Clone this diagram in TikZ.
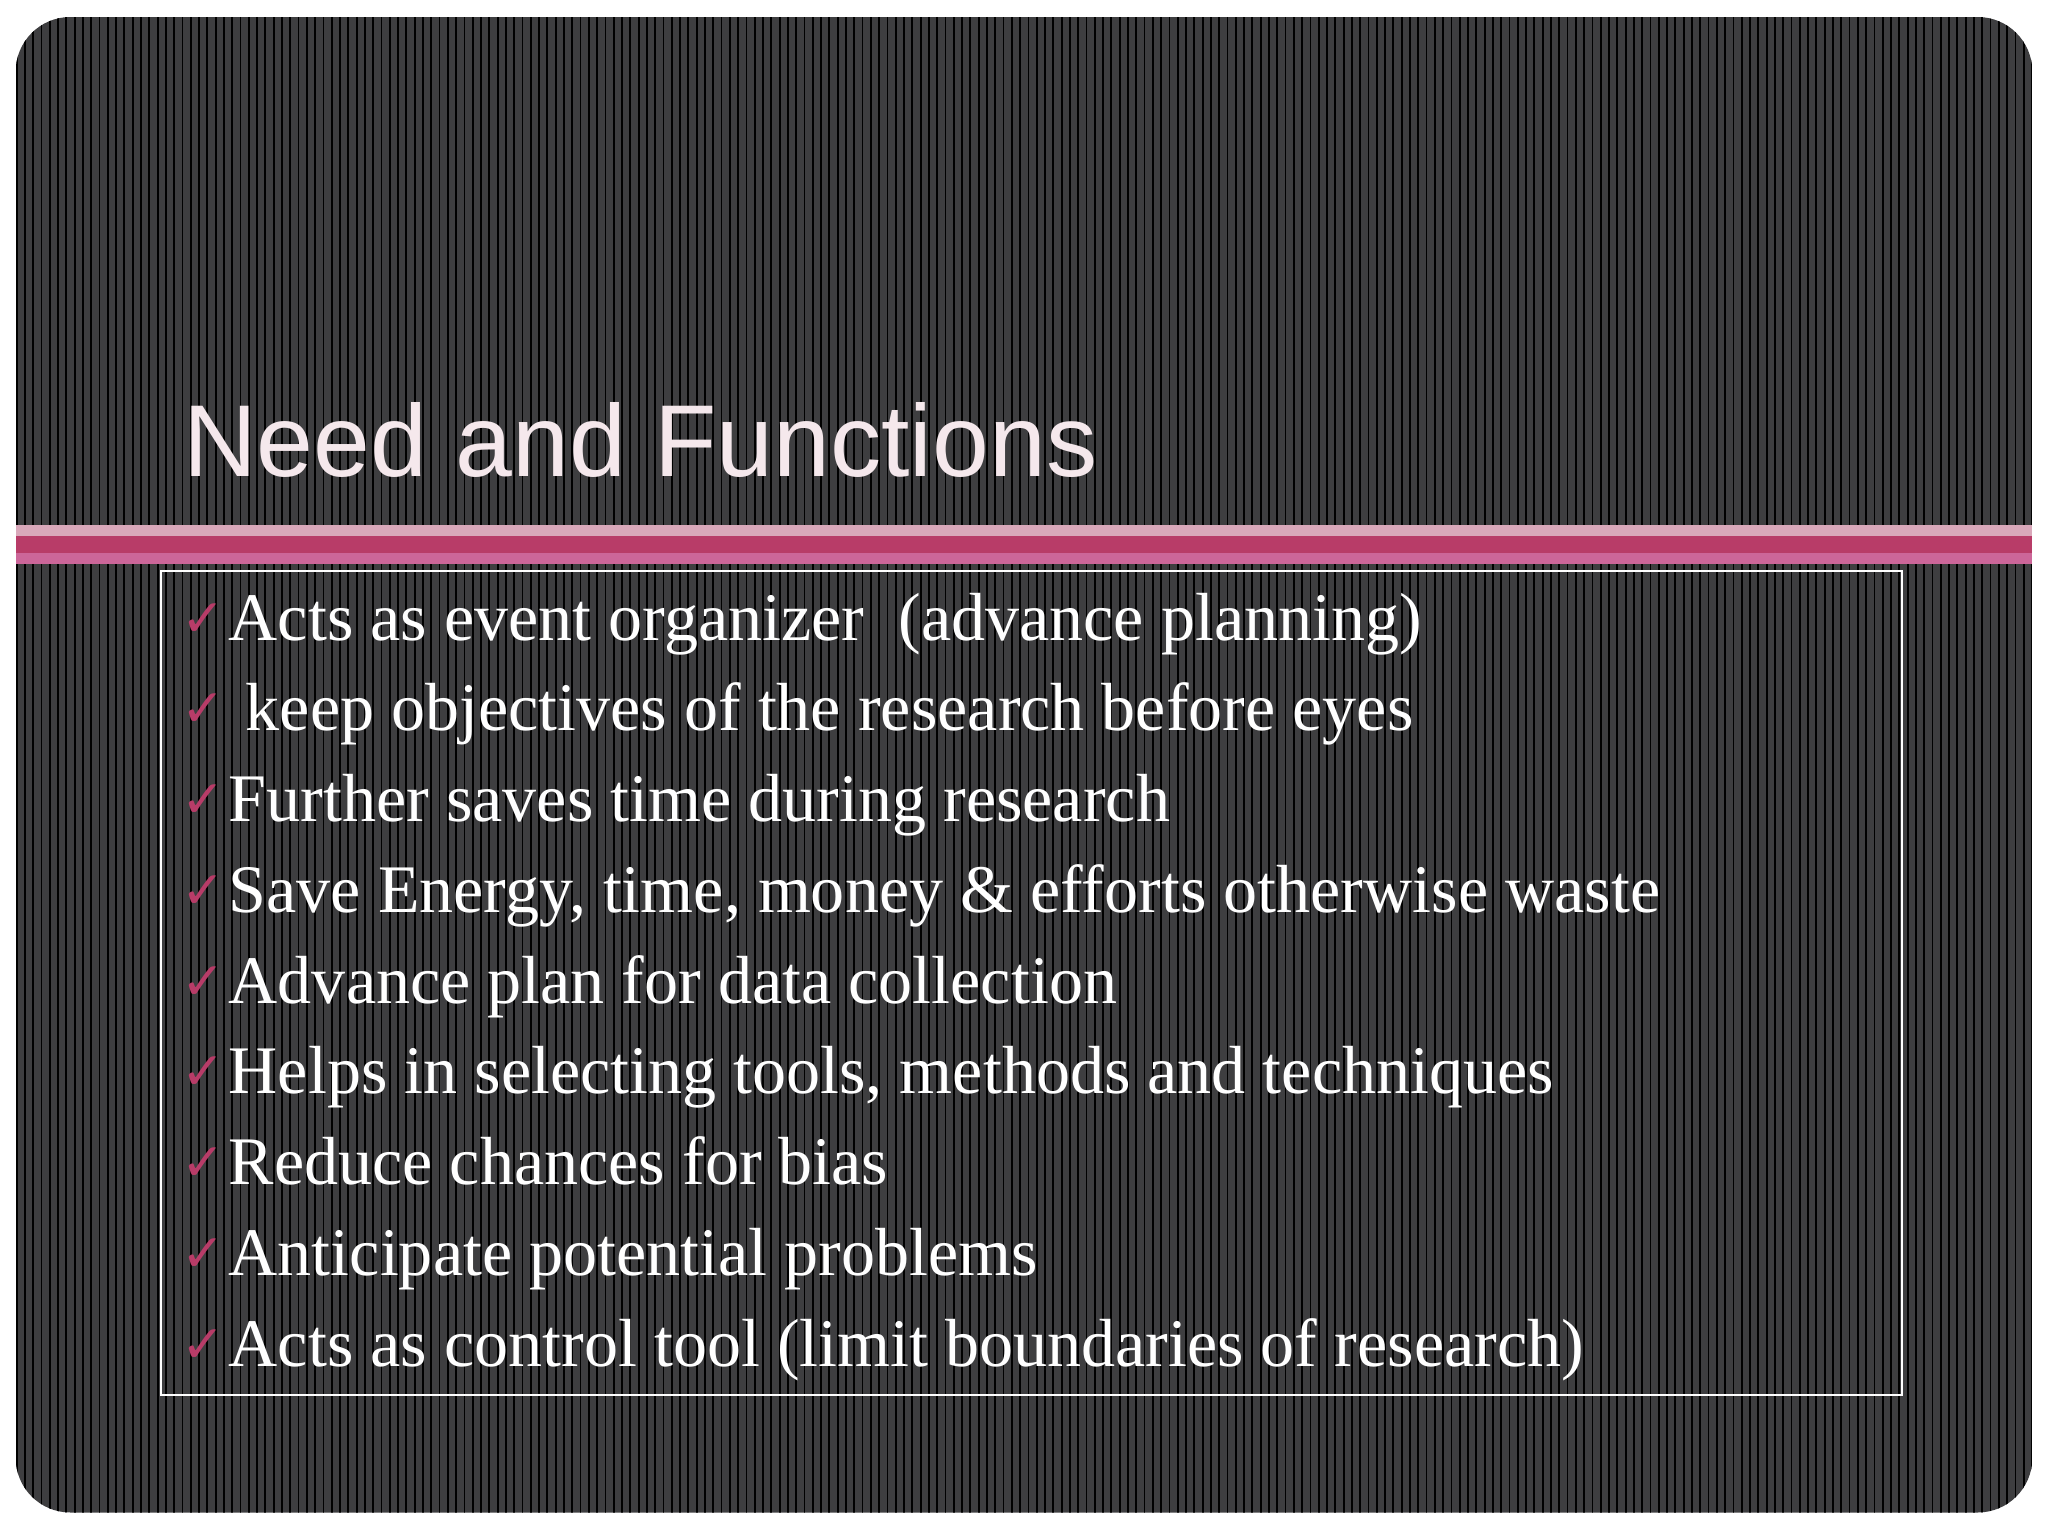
\documentclass[tikz,border=0pt]{standalone}
\usepackage{fontspec}
\setmainfont{Liberation Serif}
\newfontfamily\titlefont{Liberation Sans}
\newfontfamily\symfont{DejaVu Sans}
\definecolor{bgd}{HTML}{3E3E40}
\definecolor{pk1}{HTML}{D9A8BA}
\definecolor{pk2}{HTML}{B83C68}
\definecolor{pk3}{HTML}{CC6699}
\definecolor{ttl}{HTML}{F5E8EC}
\tikzset{item/.style={anchor=base west,inner sep=0pt,text=white,font=\fontsize{52.3}{60}\selectfont},
chk/.style={anchor=base west,inner sep=0pt,text=pk2,font=\symfont\fontsize{40}{46}\selectfont}}
\begin{document}
\begin{tikzpicture}[x=1bp,y=-1bp]
\useasboundingbox (0,0) rectangle (1568,1176);
\fill[white] (0,0) rectangle (1568,1176);
\begin{scope}
\clip[rounded corners=42] (12,13) rectangle (1556,1158);
\fill[bgd] (12,13) rectangle (1556,1158);
\foreach \i in {0,...,244} {\fill[black] ({12+\i*6.35},13) rectangle ({13.4+\i*6.35},1158);}
\end{scope}
\fill[pk1] (12,402) rectangle (1556,410);
\fill[pk2] (12,410) rectangle (1556,423);
\fill[pk3] (12,423) rectangle (1556,432);
\draw[white,line width=1.5] (123,437) rectangle (1456,1068);
\node[anchor=base west,inner sep=0pt,text=ttl,font=\titlefont\fontsize{78.5}{90}\selectfont] (title) at (140,365) {Need and Functions};
\foreach \t [count=\n] in {{Acts as event organizer \ (advance planning)},{\ keep objectives of the research before eyes},{Further saves time during research},{Save Energy, time, money \& efforts otherwise waste},{Advance plan for data collection},{Helps in selecting tools, methods and techniques},{Reduce chances for bias},{Anticipate potential problems},{Acts as control tool (limit boundaries of research)}} {
  \node[chk] (c\n) at (139,{487+(\n-1)*69.5}) {✓};
  \node[item] (t\n) at (175,{490+(\n-1)*69.5}) {\t};
}
\end{tikzpicture}
\end{document}
